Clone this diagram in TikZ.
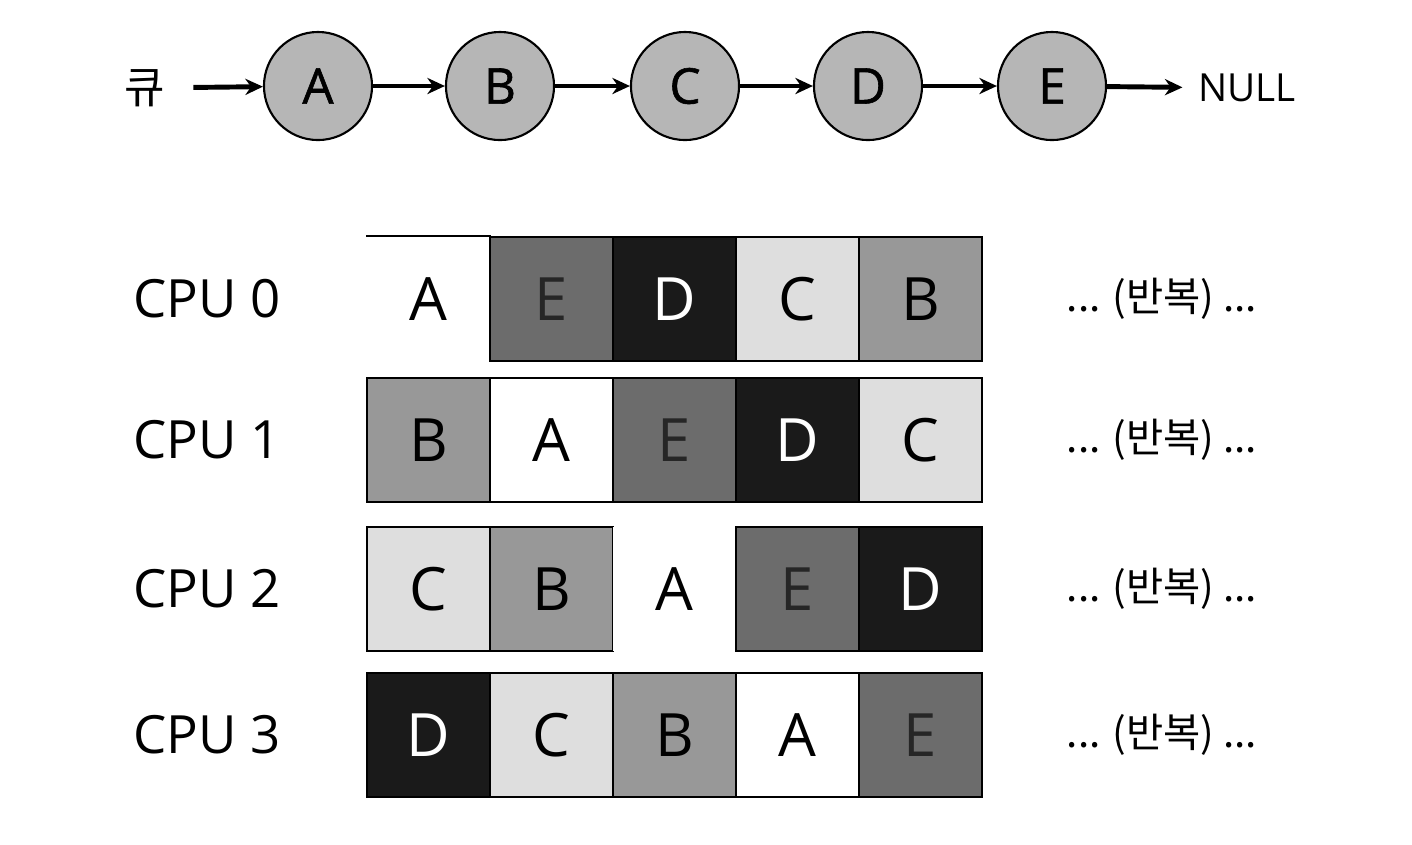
\documentclass[tikz,border=0pt]{standalone}
\usepackage{fontspec}
\setmainfont{Open Sans}
\newfontfamily\cjk{Noto Sans CJK KR}
\newfontfamily\heavy[FakeBold=1.2]{Open Sans}
\usetikzlibrary{arrows.meta}
\definecolor{nodegray}{RGB}{182,182,182}
\definecolor{shadeA}{RGB}{255,255,255}
\definecolor{shadeB}{RGB}{152,152,152}
\definecolor{shadeC}{RGB}{222,222,222}
\definecolor{shadeD}{RGB}{26,26,26}
\definecolor{shadeE}{RGB}{108,108,108}
\tikzset{
  qnode/.style={circle, draw, line width=0.6pt, fill=nodegray, minimum size=1.08cm, inner sep=0pt, font=\heavy\fontsize{14}{16}\selectfont},
  link/.style={line width=1.4pt, -{Stealth[length=5pt,width=4.6pt]}},
  slot/.style={draw, line width=0.5pt, minimum width=1.23cm, minimum height=1.24cm, inner sep=0pt, font=\fontsize{17}{20}\selectfont},
  slotA/.style={fill=shadeA},
  slotB/.style={fill=shadeB},
  slotC/.style={fill=shadeC},
  slotD/.style={fill=shadeD, text=white},
  slotE/.style={fill=shadeE, text=black!85},
  bare/.style={draw=none},
  cpulabel/.style={anchor=west, inner sep=0pt, font=\fontsize{15}{18}\selectfont},
  replabel/.style={font=\cjk\fontsize{11.5}{13}\selectfont}
}

\begin{document}
\begin{tikzpicture}[x=0.01cm, y=-0.01cm, >=Stealth]
    \useasboundingbox (0,0) rectangle (1412,844);

    % Queue as linked list
    \node[font=\cjk\fontsize{12.5}{14}\selectfont] (q) at (145,88) {큐};
    \foreach \n/\x in {A/318, B/500, C/685, D/868, E/1052}
        \node[qnode] (n\n) at (\x,86) {\n};
    \node[font=\fontsize{11}{13}\selectfont, anchor=west] (null) at (1186,88) {NULL};

    \draw[link, shorten <=4.5pt] (q) -- (nA);
    \foreach \a/\b in {A/B, B/C, C/D, D/E}
        \draw[link] (n\a) -- (n\b);
    \draw[link, shorten >=1pt] (nE) -- (null);

    % Time slots per CPU (order A E D C B, shifted by one each row)
    \foreach \r/\y in {0/299, 1/440, 2/589, 3/735} {
        \node[cpulabel] (cpu\r) at (133,\y) {CPU \r};
        \foreach \c in {0,...,4} {
            \pgfmathtruncatemacro{\k}{mod(\c-\r+5,5)}
            \pgfmathsetmacro{\job}{{"A","E","D","C","B"}[\k]}
            \ifnum\k=0
                \ifodd\r
                    \node[slot, slotA] (c\r\c) at (428.5+123*\c,\y) {A};
                \else
                    \node[slot, slotA, bare] (c\r\c) at (428.5+123*\c,\y) {A};
                \fi
            \else
                \node[slot, slot\job] (c\r\c) at (428.5+123*\c,\y) {\job};
            \fi
        }
        \node[replabel] (rep\r) at (1162,\y) {... (반복) ...};
    }

    % Top edge of the first slot
    \draw[line width=0.5pt] (c00.north west) -- (c00.north east);
\end{tikzpicture}
\end{document}
